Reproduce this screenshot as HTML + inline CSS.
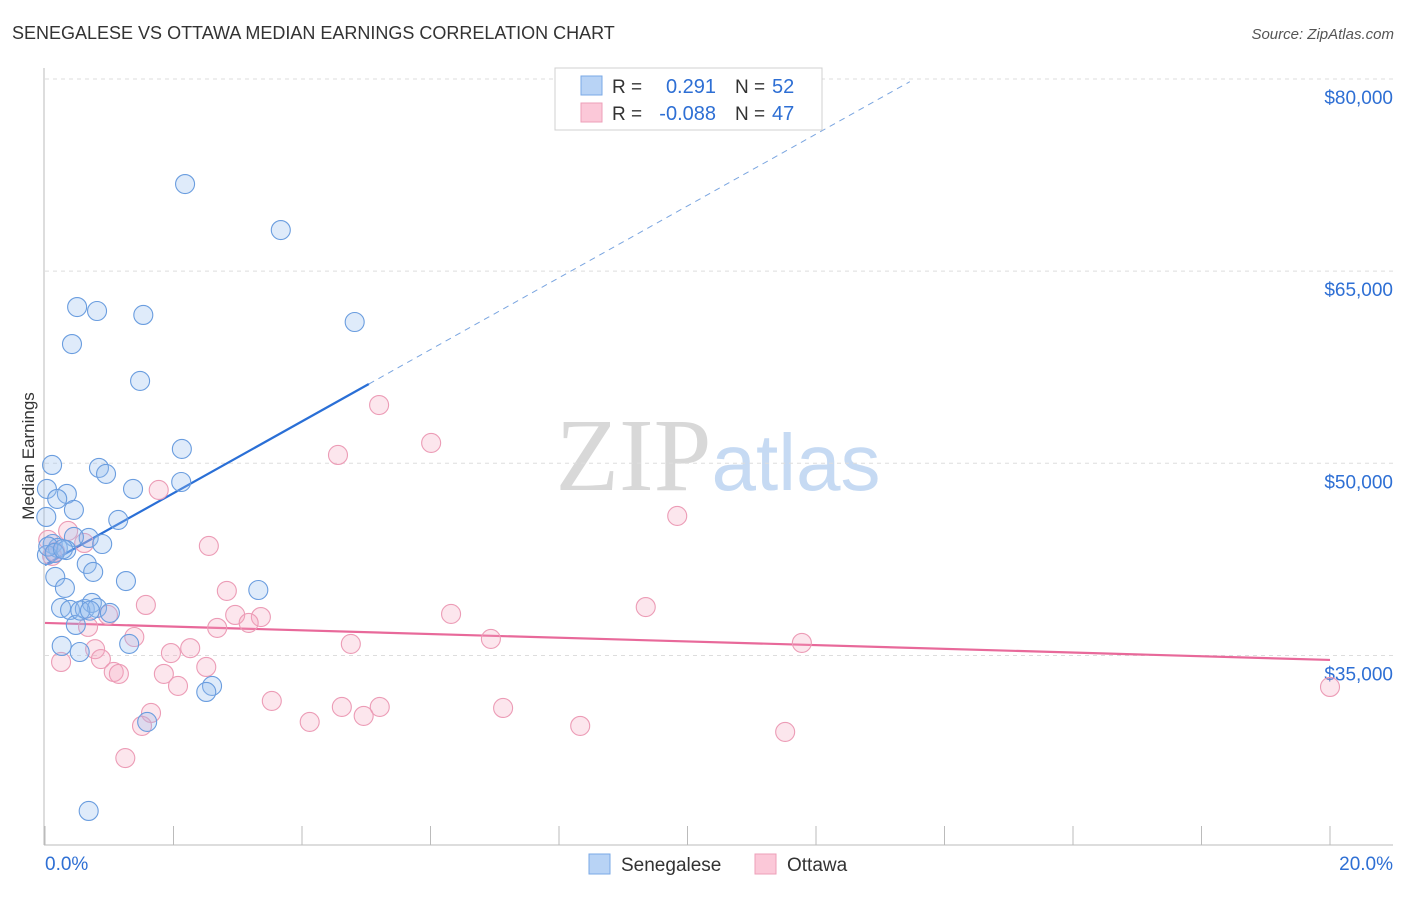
<!DOCTYPE html>
<html><head><meta charset="utf-8"><style>
body{margin:0;background:#fff;font-family:"Liberation Sans",sans-serif;}
svg text{font-family:"Liberation Sans",sans-serif;}
</style></head><body>
<svg id="chart" width="1406" height="892" xmlns="http://www.w3.org/2000/svg">
<text x="12" y="39" font-size="18" fill="#333">SENEGALESE VS OTTAWA MEDIAN EARNINGS CORRELATION CHART</text>
<text x="1394" y="39" font-size="15" fill="#555" text-anchor="end" font-style="italic">Source: ZipAtlas.com</text>
<text x="718" y="490" font-size="104" text-anchor="middle"><tspan font-family="Liberation Serif" fill="#d8d8d8">ZIP</tspan><tspan fill="#c6daf3" font-size="80">atlas</tspan></text>
<g id="grid"></g>
<g id="axes"></g>
<text transform="translate(34,456) rotate(-90)" font-size="17" fill="#333" text-anchor="middle">Median Earnings</text>
<g id="trends"></g>
<g id="pts"></g>
<g>
<rect x="555" y="68" width="267" height="62" fill="#fff" stroke="#d0d0d0"/>
<rect x="581" y="76" width="21" height="19" fill="#b8d3f5" stroke="#7aa8e6"/>
<rect x="581" y="103" width="21" height="19" fill="#fbc8d8" stroke="#ee9fb8"/>
<text x="612" y="93" font-size="19" fill="#333">R =</text><text x="716" y="93" font-size="20" fill="#2e6fd4" text-anchor="end">0.291</text>
<text x="735" y="93" font-size="19" fill="#333">N =</text><text x="772" y="93" font-size="20" fill="#2e6fd4">52</text>
<text x="612" y="120" font-size="19" fill="#333">R =</text><text x="716" y="120" font-size="20" fill="#2e6fd4" text-anchor="end">-0.088</text>
<text x="735" y="120" font-size="19" fill="#333">N =</text><text x="772" y="120" font-size="20" fill="#2e6fd4">47</text>
</g>
<g>
<rect x="589" y="854" width="21" height="20" fill="#b8d3f5" stroke="#7aa8e6"/>
<text x="621" y="871" font-size="19" fill="#333">Senegalese</text>
<rect x="755" y="854" width="21" height="20" fill="#fbc8d8" stroke="#ee9fb8"/>
<text x="787" y="871" font-size="19" fill="#333">Ottawa</text>
</g>
</svg>
<script>
const yTicks=[35000,50000,65000,80000];
const yTickLabels=["$35,000","$50,000","$65,000","$80,000"];
const xTicks=[0,2,4,6,8,10,12,14,16,18,20];
const blueX=[2.18,3.67,0.50,0.81,1.53,4.82,0.42,1.48,2.13,0.11,0.84,0.95,2.12,1.37,0.03,0.34,0.19,0.45,1.14,0.02,0.68,0.45,0.12,0.20,0.33,0.03,0.65,0.75,0.16,1.26,0.31,3.32,0.25,0.39,0.62,0.73,0.81,1.01,0.48,1.31,0.26,0.54,2.60,2.51,1.59,0.68,0.89,0.05,0.55,0.70,0.15,0.28];
const blueY=[71800,68210,62200,61890,61580,61030,59310,56430,51120,49870,49640,49170,48540,48000,48000,47610,47220,46360,45580,45810,44170,44250,43700,43390,43230,42840,42140,41520,41130,40810,40270,40110,38710,38550,38630,39100,38710,38320,37380,35900,35740,35270,32620,32150,29810,22860,43700,43500,38500,38500,43000,43300];
const pinkX=[5.20,6.01,4.56,1.77,9.84,0.36,0.61,2.55,0.16,0.11,2.83,1.57,9.35,6.32,2.96,3.36,3.17,2.68,0.67,0.98,6.94,1.39,4.76,11.78,0.78,2.26,1.96,0.87,0.25,2.51,1.07,1.15,1.85,2.07,20.0,3.53,5.21,4.62,4.12,4.96,7.13,8.33,1.65,1.51,11.52,1.25,0.05];
const pinkY=[54550,51590,50650,47920,45890,44720,43780,43550,43080,42770,40040,38940,38780,38240,38160,38000,37540,37150,37230,38160,36290,36440,35900,35980,35490,35570,35190,34720,34490,34100,33710,33560,33560,32620,32540,31450,30980,30980,29810,30280,30900,29500,30510,29500,29030,26990,44020];
const blueTrend=[42062,2803], pinkTrend=[37540,-144.6];
const NS="http://www.w3.org/2000/svg";
const sx=v=>45+v*64.25, sy=v=>79+(80000-v)*0.01281;
function mk(t,a,p){const e=document.createElementNS(NS,t);for(const k in a)e.setAttribute(k,a[k]);p.appendChild(e);return e;}
const grid=document.getElementById('grid'),axes=document.getElementById('axes');
yTicks.forEach((v,i)=>{
 const l=mk('line',{x1:45,x2:1393,y1:sy(v),y2:sy(v),stroke:'#ddd','stroke-dasharray':'4,4'},grid);
 
 
 const t=mk('text',{x:1393,y:sy(v)+25,'font-size':19,fill:'#2e6fd4','text-anchor':'end'},axes);t.textContent=yTickLabels[i];
 
 
});
mk('line',{x1:44,x2:44,y1:68,y2:845,stroke:'#bbb'},axes);
mk('line',{x1:44,x2:1393,y1:845,y2:845,stroke:'#bbb'},axes);
xTicks.forEach(v=>{const l=mk('line',{x1:sx(v),x2:sx(v),y1:826,y2:845,stroke:'#bbb'},axes);
 
 });
let t1=mk('text',{x:45,y:870,'font-size':19,fill:'#2e6fd4'},axes);t1.textContent='0.0%';


let t2=mk('text',{x:1393,y:870,'font-size':19,fill:'#2e6fd4','text-anchor':'end'},axes);t2.textContent='20.0%';


const pts=document.getElementById('pts');
pinkX.forEach((x,i)=>{const c=mk('circle',{cx:sx(x),cy:sy(pinkY[i]),r:9.5,fill:'rgba(245,165,192,0.28)',stroke:'#ec9cb6','stroke-width':1.1},pts);
 
 });
blueX.forEach((x,i)=>{const c=mk('circle',{cx:sx(x),cy:sy(blueY[i]),r:9.5,fill:'rgba(150,190,240,0.3)',stroke:'#6a9ddf','stroke-width':1.1},pts);
 
 });
const tr=document.getElementById('trends');
const bf=x=>blueTrend[0]+blueTrend[1]*x, pf=x=>pinkTrend[0]+pinkTrend[1]*x;
let a=mk('line',{x1:sx(0),y1:sy(bf(0)),x2:sx(5.04),y2:sy(bf(5.04)),stroke:'#2a6fd6','stroke-width':2.2},tr);


let b=mk('line',{x1:sx(5.04),y1:sy(bf(5.04)),x2:sx(13.46),y2:sy(bf(13.46)),stroke:'#7aa5e0','stroke-width':1,'stroke-dasharray':'6,5'},tr);


let c=mk('line',{x1:sx(0),y1:sy(pf(0)),x2:sx(20),y2:sy(pf(20)),stroke:'#e8699a','stroke-width':2.2},tr);


</script>
</body></html>
